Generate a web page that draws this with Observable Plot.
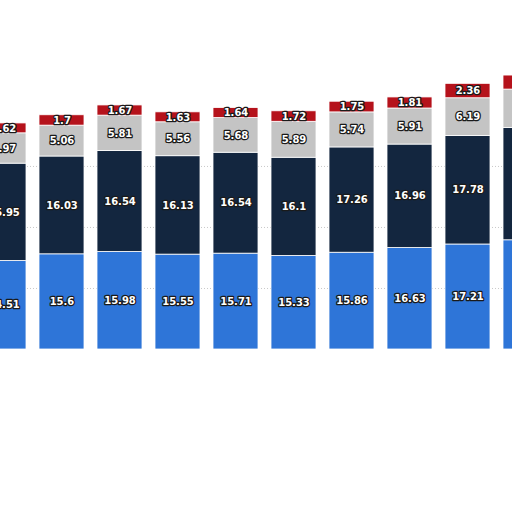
<!DOCTYPE html>
<html>
<head>
<meta charset="utf-8">
<script src="https://cdn.jsdelivr.net/npm/d3@7"></script>
<script src="https://cdn.jsdelivr.net/npm/@observablehq/plot@0.6"></script>
<style>
html, body { margin: 0; padding: 0; background: #fff; overflow: hidden; }
#chart svg { overflow: hidden; display: block; }
</style>
</head>
<body>
<div id="chart"></div>
<script>
const periods = ["P1","P2","P3","P4","P5","P6","P7","P8","P9","P10"];
const seriesNames = ["Series A","Series B","Series C","Series D"];
const blueVals = [14.51, 15.6, 15.98, 15.55, 15.71, 15.33, 15.86, 16.63, 17.21, 17.9];
const navyVals = [15.95, 16.03, 16.54, 16.13, 16.54, 16.1, 17.26, 16.96, 17.78, 18.4];
const greyVals = [4.97, 5.06, 5.81, 5.56, 5.68, 5.89, 5.74, 5.91, 6.19, 6.3];
const redVals = [1.62, 1.7, 1.67, 1.63, 1.64, 1.72, 1.75, 1.81, 2.36, 2.3];
const colors = ["#2e75d8", "#13263f", "#c4c4c4", "#b5121b"];
const gridValues = [10, 20, 30];

const seriesData = [blueVals, navyVals, greyVals, redVals];
const rows = [];
periods.forEach((p, i) => {
  seriesNames.forEach((s, j) => {
    rows.push({period: p, series: s, value: seriesData[j][i]});
  });
});

const stackOpts = {x: "period", y: "value", z: "series", order: seriesNames};

const plot = Plot.plot({
  width: 512,
  height: 512,
  marginLeft: 0,
  marginRight: 0,
  marginTop: 0,
  marginBottom: 163,
  x: {domain: periods, range: [-33.9, 563.5], padding: 0.23, axis: null},
  y: {domain: [0, 57.2], axis: null},
  color: {type: "ordinal", domain: seriesNames, range: colors},
  style: {fontFamily: "DejaVu Sans, Verdana, sans-serif"},
  marks: [
    Plot.ruleY(gridValues, {stroke: "#bbb", strokeDasharray: "1,2", strokeWidth: 0.8}),
    Plot.barY(rows, Plot.stackY({...stackOpts, fill: "series", stroke: "white", strokeWidth: 0.8})),
    Plot.text(rows.filter(d => d.period !== "P10"), Plot.stackY({...stackOpts, text: d => String(d.value),
      fill: "white", stroke: "#1a1a1a", strokeWidth: 2.5, paintOrder: "stroke",
      fontWeight: "bold", fontSize: 10})),
    Plot.ruleY([0], {x1: -40, x2: 503, stroke: "#444", strokeWidth: 1.2})
  ]
});
document.getElementById("chart").append(plot);
</script>
</body>
</html>
